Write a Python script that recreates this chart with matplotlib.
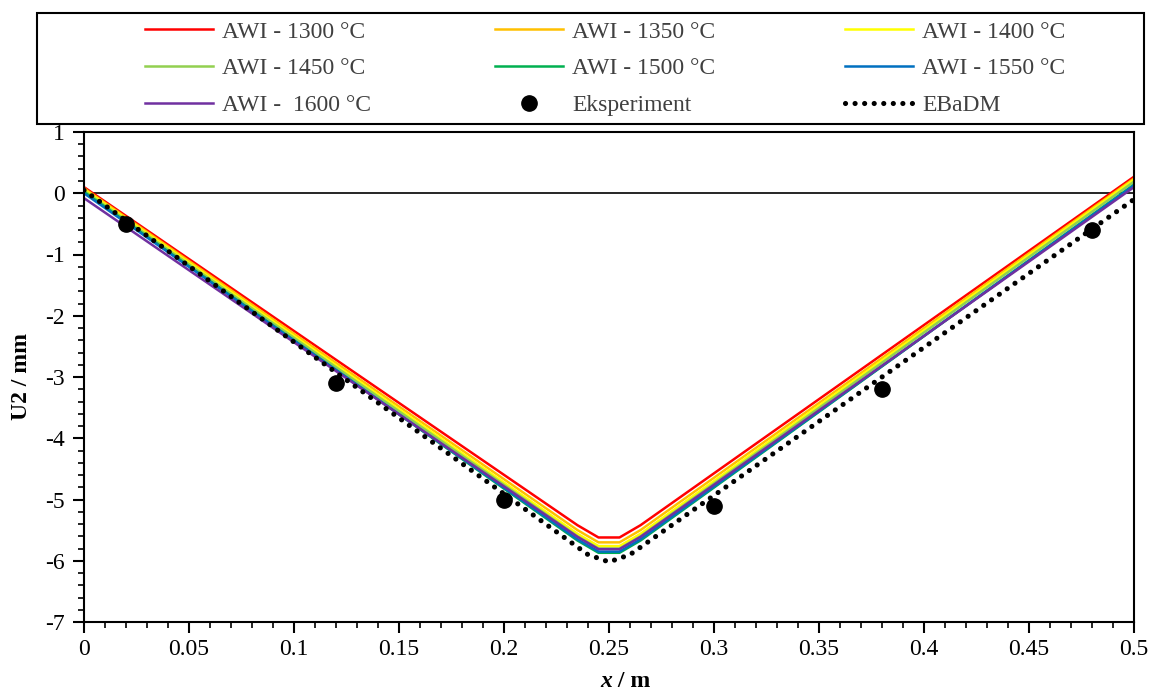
import numpy as np
import matplotlib.pyplot as plt
from matplotlib.ticker import MultipleLocator
from matplotlib.patches import Rectangle

plt.rcParams['font.family'] = ['Liberation Serif', 'DejaVu Serif']
plt.rcParams['axes.unicode_minus'] = False

### Data ###
x_awi = [0, 0.235, 0.245, 0.255, 0.265, 0.5]
u_1300 = [0.10, -5.42, -5.62, -5.62, -5.42, 0.27]
u_1350 = [0.08, -5.50, -5.70, -5.70, -5.50, 0.24]
u_1400 = [0.06, -5.56, -5.76, -5.76, -5.56, 0.22]
u_1450 = [0.04, -5.60, -5.80, -5.80, -5.60, 0.19]
u_1500 = [0.02, -5.67, -5.87, -5.87, -5.67, 0.14]
u_1550 = [0.00, -5.65, -5.85, -5.85, -5.65, 0.13]
u_1600 = [-0.08, -5.61, -5.81, -5.81, -5.61, 0.10]

x_exp = [0.02, 0.12, 0.20, 0.30, 0.38, 0.48]
u_exp = [-0.5, -3.1, -5.0, -5.1, -3.2, -0.6]

x_ebadm = [0, 0.24, 0.25, 0.26, 0.5]
u_ebadm = [0.05, -5.90, -6.02, -5.90, -0.10]

labels = ['AWI - 1300 °C', 'AWI - 1350 °C', 'AWI - 1400 °C', 'AWI - 1450 °C',
          'AWI - 1500 °C', 'AWI - 1550 °C', 'AWI -  1600 °C']
colors = ['#FF0000', '#FFC000', '#FFFF00', '#92D050', '#00B050', '#0070C0', '#7030A0']
series = [u_1300, u_1350, u_1400, u_1450, u_1500, u_1550, u_1600]

### Plotting ###
W, H = 1150, 691
fig = plt.figure(figsize=(W / 100, H / 100), dpi=100)
ax = fig.add_axes([84 / W, 1 - 622 / H, 1050 / W, 490 / H])

ax.axhline(0, color='black', lw=1.2, zorder=1)

h = {}
for lab, col, u in zip(labels, colors, series):
    h[lab], = ax.plot(x_awi, u, color=col, lw=1.8, label=lab, zorder=2)
h['exp'], = ax.plot(x_exp, u_exp, 'o', color='black', ms=11, ls='none',
                    label='Eksperiment', zorder=4)
h['ebadm'], = ax.plot(x_ebadm, u_ebadm, color='black', lw=3.7,
                      ls=(0, (0.01, 1.85)), dash_capstyle='round',
                      label='EBaDM', zorder=3)

ax.set_xlim(0, 0.5)
ax.set_ylim(-7, 1)
ax.xaxis.set_minor_locator(MultipleLocator(0.01))
ax.yaxis.set_major_locator(MultipleLocator(1))
ax.yaxis.set_minor_locator(MultipleLocator(0.2))
ax.set_xticks(np.arange(0, 0.501, 0.05))
ax.set_xticklabels(['0', '0.05', '0.1', '0.15', '0.2', '0.25', '0.3',
                    '0.35', '0.4', '0.45', '0.5'])
ax.tick_params(which='major', direction='out', length=8, width=1.5, labelsize=17)
ax.tick_params(which='minor', direction='out', length=4.5, width=1.2)
ax.tick_params(axis='x', pad=4)
ax.tick_params(axis='y', pad=6)
for s in ax.spines.values():
    s.set_linewidth(1.5)

fig.text(0.532, 0.006, 'x', fontsize=17, fontweight='bold', style='italic',
         ha='right', va='baseline')
fig.text(0.532, 0.006, ' / m', fontsize=17, fontweight='bold', ha='left', va='baseline')
ax.set_ylabel('U2 / mm', fontsize=17, fontweight='bold', labelpad=9)

# legend frame
fig.patches.append(Rectangle((37 / W, 1 - 124 / H), 1107 / W, 111 / H,
                             transform=fig.transFigure, fill=False,
                             edgecolor='black', lw=1.5))

columns = [[labels[0], labels[3], labels[6]],
           [labels[1], labels[4], 'exp'],
           [labels[2], labels[5], 'ebadm']]
col_x = [145, 495, 845]
for keys, cx in zip(columns, col_x):
    leg = fig.legend([h[k] for k in keys], [h[k].get_label() for k in keys],
                     loc='upper left', bbox_to_anchor=(cx / W, 1 - 21 / H),
                     fontsize=17, frameon=False, handlelength=2.9,
                     handletextpad=0.38, borderaxespad=0, borderpad=0,
                     labelspacing=0.64, labelcolor='#404040')

plt.savefig('out.png', dpi=100)
